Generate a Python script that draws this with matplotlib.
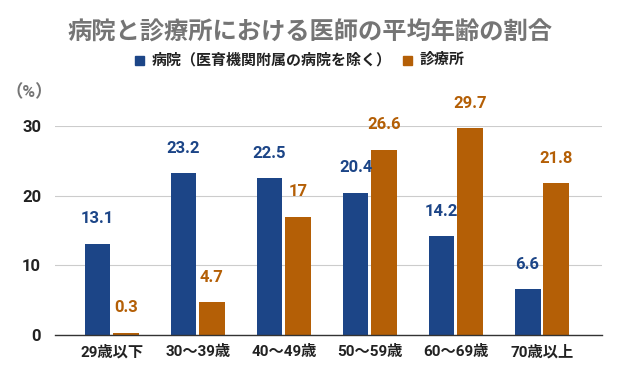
import matplotlib
matplotlib.use("Agg")
import matplotlib.pyplot as plt
import numpy as np
from matplotlib.patches import Rectangle

plt.rcParams['font.family'] = ['Roboto', 'Noto Sans CJK JP', 'DejaVu Sans']

categories = ["29歳以下", "30～39歳", "40～49歳", "50～59歳", "60～69歳", "70歳以上"]
hospital = [13.1, 23.2, 22.5, 20.4, 14.2, 6.6]
clinic = [0.3, 4.7, 17, 26.6, 29.7, 21.8]
hospital_labels = ["13.1", "23.2", "22.5", "20.4", "14.2", "6.6"]
clinic_labels = ["0.3", "4.7", "17", "26.6", "29.7", "21.8"]
series_names = ["病院（医育機関附属の病院を除く）", "診療所"]
yticks = [0, 10, 20, 30]

BLUE = "#1c4587"
ORANGE = "#b45f06"

fig = plt.figure(figsize=(6.19, 3.82), dpi=100)
ax = fig.add_axes([55/619, 1-335/382, 547/619, 209/382])

x = np.arange(len(categories))
w = 0.30
gap = 0.015
b1 = ax.bar(x - w/2 - gap, hospital, w, color=BLUE, zorder=3)
b2 = ax.bar(x + w/2 + gap, clinic, w, color=ORANGE, zorder=3)

for bars, labels, col in ((b1, hospital_labels, BLUE), (b2, clinic_labels, ORANGE)):
    for r, lab in zip(bars, labels):
        ax.annotate(lab, (r.get_x() + r.get_width()/2, r.get_height()),
                    xytext=(0, 18), textcoords="offset points",
                    ha="center", va="center", fontsize=12, fontweight="bold",
                    color=col, clip_on=False, zorder=4)

ax.set_xlim(-0.66, len(categories) - 1 + 0.70)
ax.set_ylim(0, 30)
ax.set_yticks(yticks)
ax.set_yticklabels([str(t) for t in yticks], fontsize=12, fontweight="bold", color="#222222")
ax.set_xticks(x)
ax.set_xticklabels(categories, fontsize=11, fontweight="bold", color="#222222")
ax.tick_params(axis="both", length=0)
ax.tick_params(axis="y", pad=10)
ax.tick_params(axis="x", pad=7)
ax.grid(axis="y", color="#cccccc", linewidth=0.8, zorder=0)
for s in ("top", "right", "left"):
    ax.spines[s].set_visible(False)
ax.spines["bottom"].set_color("#333333")
ax.spines["bottom"].set_linewidth(1.0)
ax.spines["bottom"].set_zorder(5)

fig.text(310/619, 1-33/382, "病院と診療所における医師の平均年齢の割合", ha="center", va="center",
         fontsize=17.5, fontweight="bold", color="#757575")

# legend
ly = 1 - 60/382
fig.patches.append(Rectangle((135/619, ly - 4.5/382), 9/619, 9/382, transform=fig.transFigure,
                             color=BLUE, figure=fig))
fig.text(152/619, ly, series_names[0], ha="left", va="center", fontsize=10.8,
         fontweight="bold", color="#222222")
fig.patches.append(Rectangle((403/619, ly - 4.5/382), 9/619, 9/382, transform=fig.transFigure,
                             color=ORANGE, figure=fig))
fig.text(420/619, ly, series_names[1], ha="left", va="center", fontsize=10.8,
         fontweight="bold", color="#222222")

fig.text(29/619, 1-92/382, "（%）", ha="center", va="center", fontsize=12.5,
         fontweight="bold", color="#757575")

fig.savefig("out.png", dpi=100)
